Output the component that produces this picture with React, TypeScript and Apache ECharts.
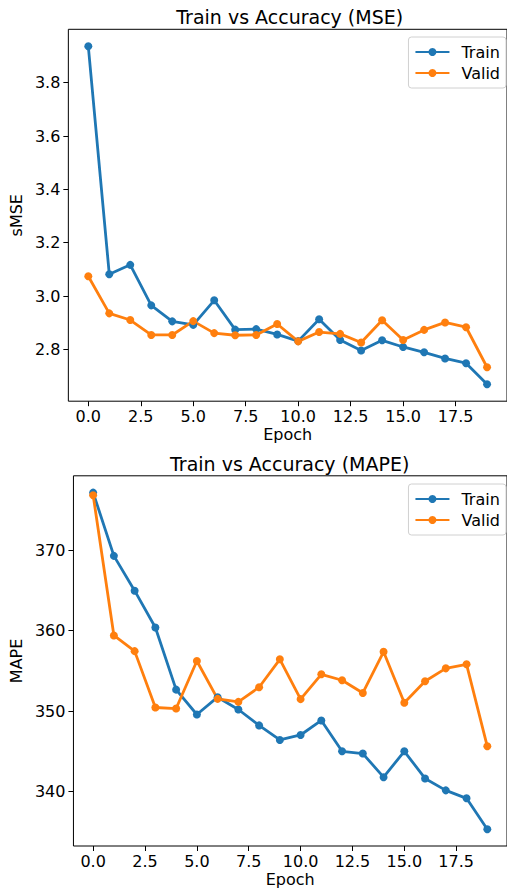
import React, { useEffect, useRef } from "react";
import * as echarts from "echarts";

const epochs = [0, 1, 2, 3, 4, 5, 6, 7, 8, 9, 10, 11, 12, 13, 14, 15, 16, 17, 18, 19];

const mseTrain = [3.937, 3.082, 3.117, 2.965, 2.905, 2.892, 2.984, 2.874, 2.876, 2.856, 2.831, 2.913, 2.835, 2.796, 2.834, 2.809, 2.789, 2.766, 2.748, 2.669];
const mseValid = [3.074, 2.935, 2.91, 2.854, 2.854, 2.906, 2.861, 2.853, 2.854, 2.895, 2.83, 2.865, 2.858, 2.826, 2.909, 2.835, 2.873, 2.901, 2.883, 2.733];

const mapeTrain = [377.18, 369.31, 364.98, 360.4, 352.67, 349.58, 351.73, 350.2, 348.22, 346.41, 347.03, 348.84, 345.0, 344.72, 341.78, 345.0, 341.62, 340.14, 339.15, 335.31];
const mapeValid = [376.86, 359.41, 357.46, 350.45, 350.32, 356.23, 351.52, 351.15, 352.97, 356.44, 351.49, 354.58, 353.84, 352.26, 357.38, 351.03, 353.71, 355.32, 355.82, 345.62];

const xTicks = [0, 2.5, 5, 7.5, 10, 12.5, 15, 17.5];
const mseTicks = [2.8, 3.0, 3.2, 3.4, 3.6, 3.8];
const mapeTicks = [340, 350, 360, 370];

const titles = ["Train vs Accuracy (MSE)", "Train vs Accuracy (MAPE)"];
const yNames = ["sMSE", "MAPE"];
const xName = "Epoch";
const seriesNames = ["Train", "Valid"];

const FONT = "DejaVu Sans";
const FS = 16;
const BLUE = "#1f77b4";
const ORANGE = "#ff7f0e";

export default function App() {
  const ref = useRef<HTMLDivElement>(null);

  useEffect(() => {
    if (!ref.current) return;
    const chart = echarts.init(ref.current, undefined, { renderer: "svg" });

    const gridLeft = 64.7;
    const gridWidth = 450;
    const grids = [
      { left: gridLeft, top: 29.3, width: gridWidth, height: 371.9 },
      { left: gridLeft, top: 475.8, width: gridWidth, height: 372.2 },
    ].map((g) => ({ ...g, show: true, borderColor: "#000", borderWidth: 1, backgroundColor: "transparent" }));

    const mkX = (idx: number) => ({
      type: "value",
      gridIndex: idx,
      min: -0.95,
      max: 19.95,
      name: xName,
      nameLocation: "middle",
      nameGap: 25,
      nameTextStyle: { fontFamily: FONT, fontSize: FS, color: "#000" },
      axisLine: { show: false, onZero: false },
      splitLine: { show: false },
      axisTick: { show: true, customValues: xTicks, length: 5, lineStyle: { color: "#000", width: 1 } },
      axisLabel: {
        customValues: xTicks,
        formatter: (v: number) => v.toFixed(1),
        fontFamily: FONT,
        fontSize: FS,
        color: "#000",
        margin: 7,
      },
    });

    const mkY = (idx: number, min: number, max: number, ticks: number[], dec: number, gap: number) => ({
      type: "value",
      gridIndex: idx,
      min,
      max,
      name: yNames[idx],
      nameLocation: "middle",
      nameGap: gap,
      nameRotate: 90,
      nameTextStyle: { fontFamily: FONT, fontSize: FS, color: "#000" },
      axisLine: { show: false, onZero: false },
      splitLine: { show: false },
      axisTick: { show: true, customValues: ticks, length: 5, lineStyle: { color: "#000", width: 1 } },
      axisLabel: {
        customValues: ticks,
        formatter: (v: number) => v.toFixed(dec),
        fontFamily: FONT,
        fontSize: FS,
        color: "#000",
        margin: 8,
      },
    });

    const mkSeries = (name: string, data: number[], color: string, idx: number) => ({
      name,
      type: "line",
      xAxisIndex: idx,
      yAxisIndex: idx,
      data: epochs.map((e, i) => [e, data[i]]),
      symbol: "circle",
      symbolSize: 8,
      showSymbol: true,
      itemStyle: { color },
      lineStyle: { color, width: 2.8 },
      emphasis: { disabled: true },
    });

    const mkLegend = (top: number) => ({
      orient: "vertical",
      right: 1,
      top,
      data: seriesNames,
      itemWidth: 34,
      itemHeight: 10,
      itemGap: 5,
      padding: [7, 6, 7, 6],
      borderColor: "#d0d0d0",
      borderWidth: 1,
      borderRadius: 3,
      backgroundColor: "rgba(255,255,255,0.8)",
      textStyle: { fontFamily: FONT, fontSize: FS, color: "#000", padding: [0, 0, 0, 7], lineHeight: 16 },
      selectedMode: false,
    });

    const option = {
      animation: false,
      grid: grids,
      xAxis: [mkX(0), mkX(1)],
      yAxis: [mkY(0, 2.6056, 4.0004, mseTicks, 1, 36), mkY(1, 333.22, 379.27, mapeTicks, 0, 42)],
      legend: [
        { ...mkLegend(37), seriesIndex: [0, 1] },
        { ...mkLegend(484) },
      ],
      series: [
        mkSeries(seriesNames[0], mseTrain, BLUE, 0),
        mkSeries(seriesNames[1], mseValid, ORANGE, 0),
        mkSeries(seriesNames[0], mapeTrain, BLUE, 1),
        mkSeries(seriesNames[1], mapeValid, ORANGE, 1),
      ],
      graphic: [
        {
          type: "text",
          x: gridLeft + gridWidth / 2,
          y: 17,
          style: { text: titles[0], fontFamily: FONT, fontSize: 19, fill: "#000", textAlign: "center", textVerticalAlign: "middle" },
        },
        {
          type: "text",
          x: gridLeft + gridWidth / 2,
          y: 463.5,
          style: { text: titles[1], fontFamily: FONT, fontSize: 19, fill: "#000", textAlign: "center", textVerticalAlign: "middle" },
        },
      ],
    };

    chart.setOption(option as any);
    return () => chart.dispose();
  }, []);

  return (
    <div
      ref={ref}
      style={{ position: "absolute", left: 0, top: 0, width: 507, height: 888, background: "#fff", overflow: "hidden" }}
    />
  );
}
